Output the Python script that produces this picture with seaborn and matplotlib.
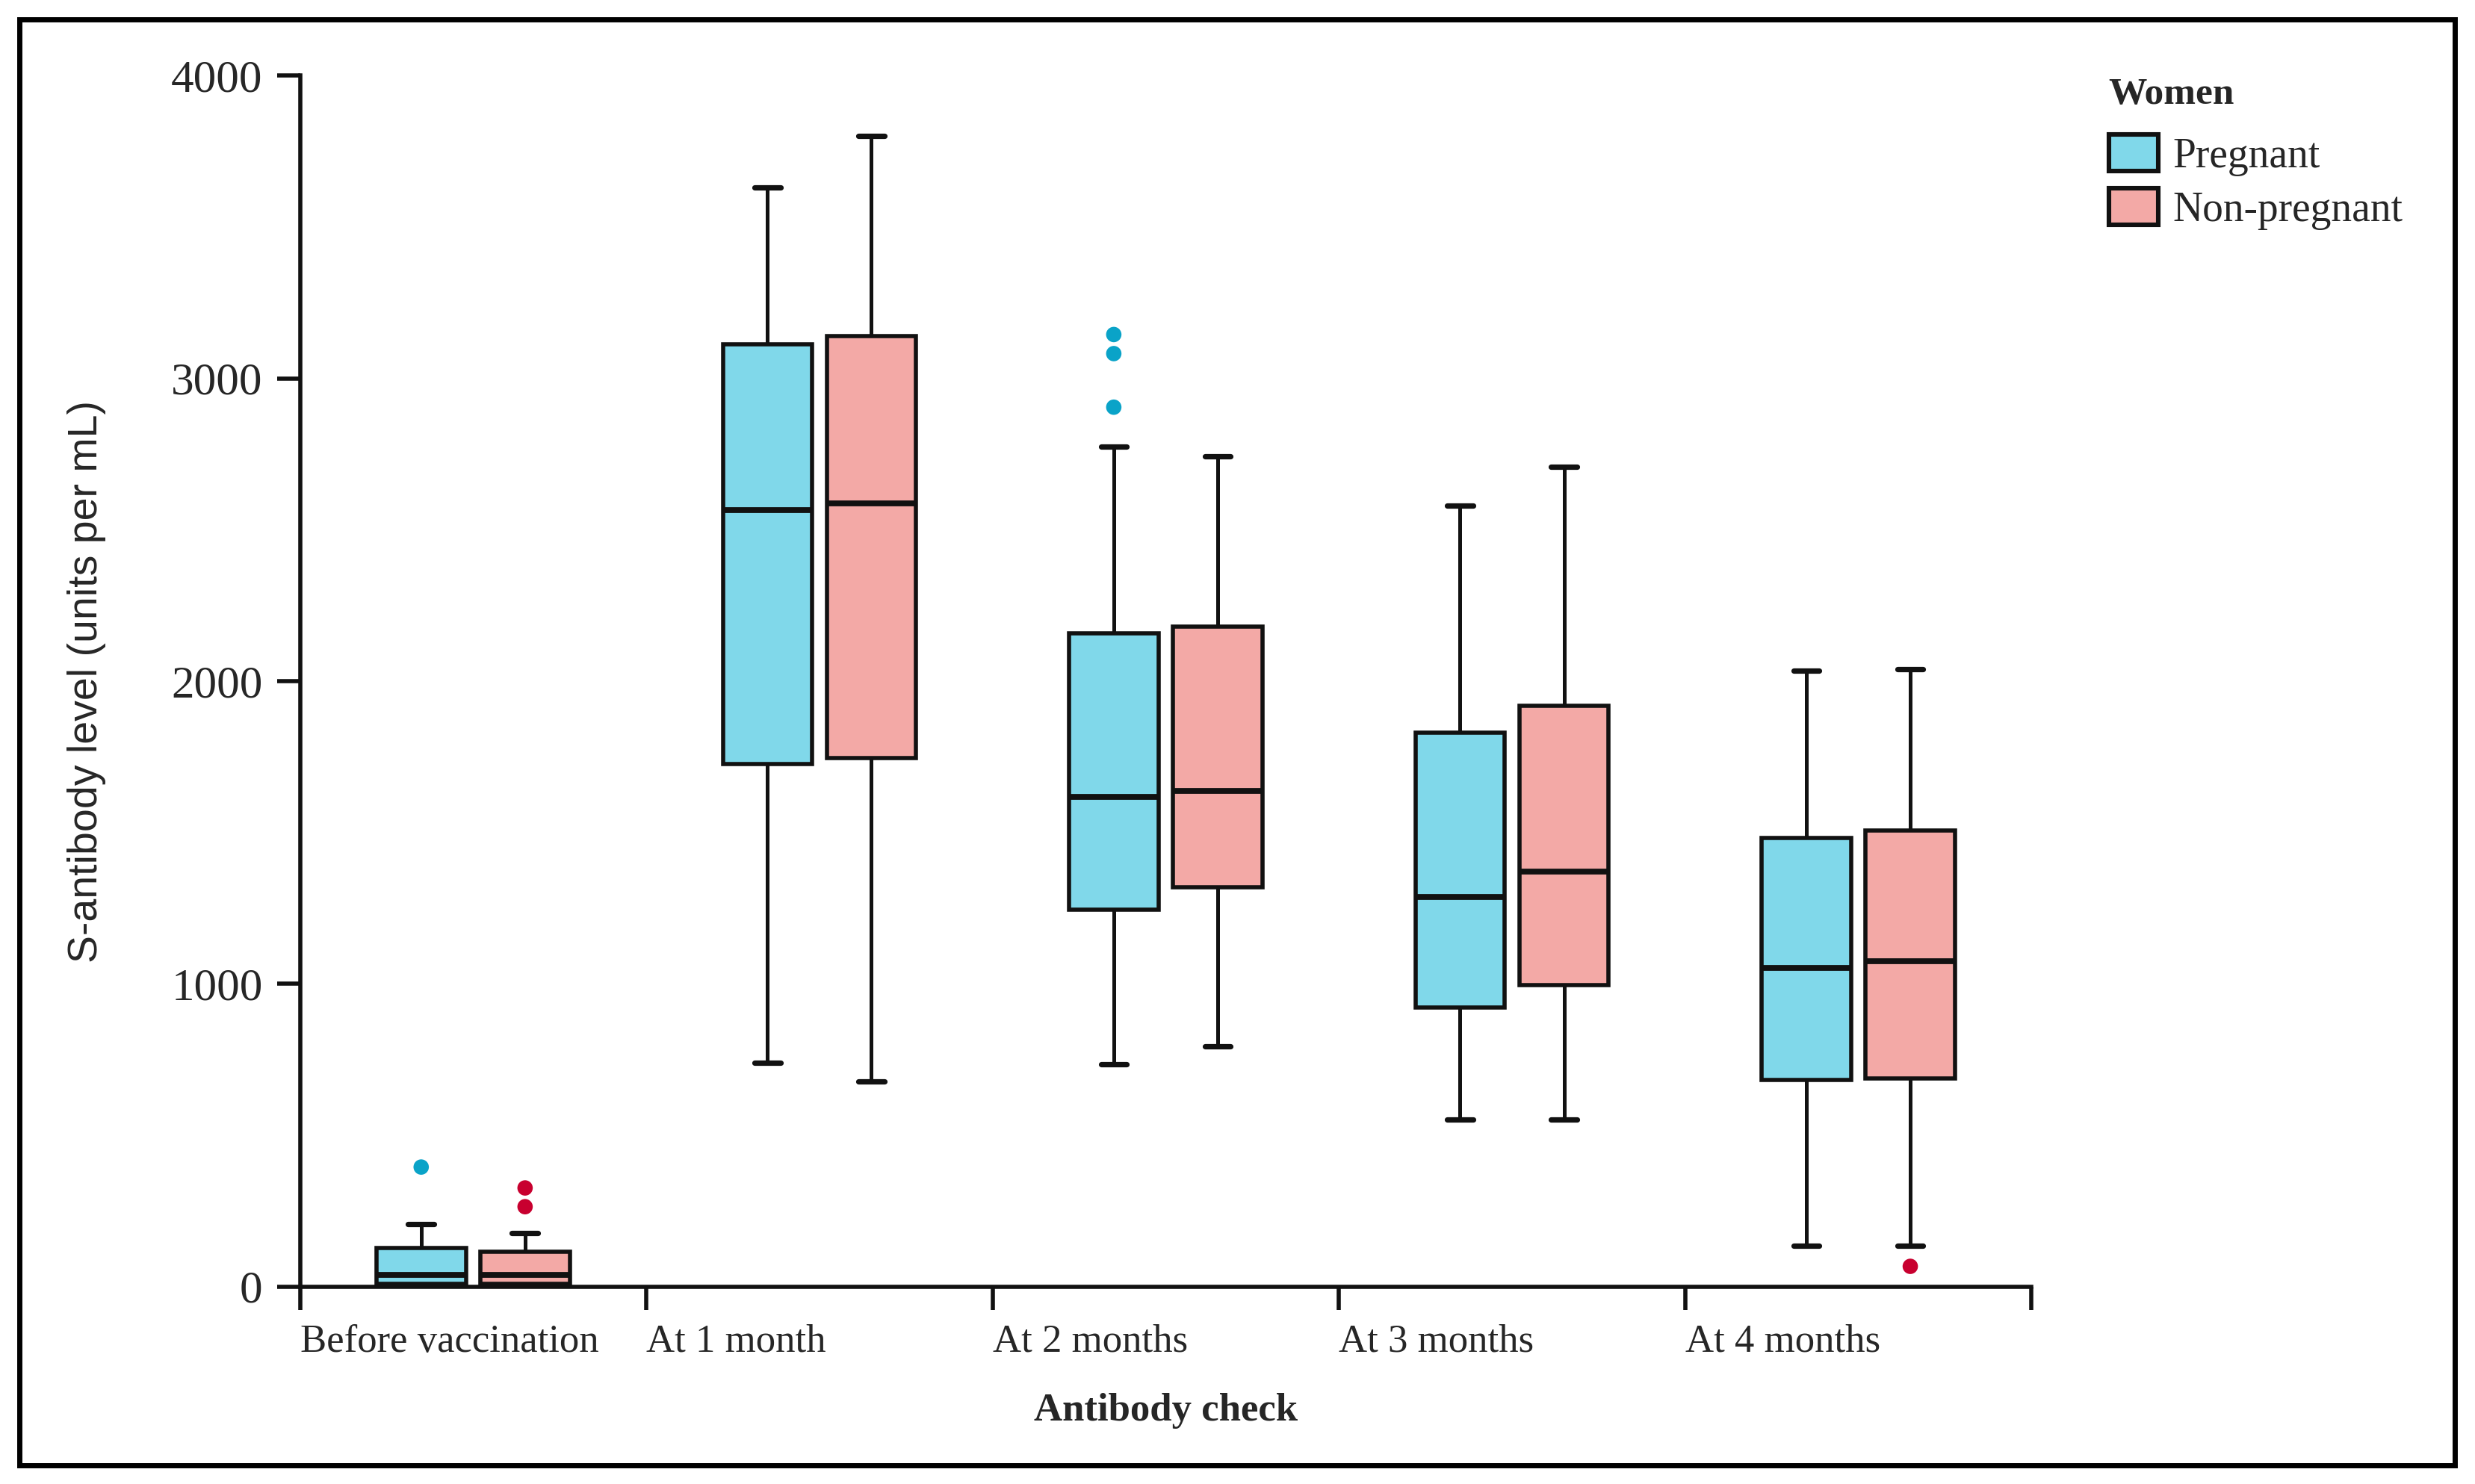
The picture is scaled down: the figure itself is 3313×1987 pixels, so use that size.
import numpy as np
import pandas as pd
import matplotlib
matplotlib.use("Agg")
import matplotlib.pyplot as plt
from matplotlib.patches import Patch, Rectangle
import seaborn as sns

checks = ["Before vaccination", "At 1 month", "At 2 months", "At 3 months", "At 4 months"]
groups = ["Pregnant", "Non-pregnant"]

# five-number summaries (whisker low, q1, median, q3, whisker high)
preg_low = [0, 740, 735, 553, 135]
preg_q1 = [10, 1726, 1246, 923, 683]
preg_med = [40, 2566, 1617, 1288, 1053]
preg_q3 = [128, 3113, 2159, 1830, 1481]
preg_high = [207, 3630, 2774, 2581, 2034]

non_low = [0, 678, 793, 553, 135]
non_q1 = [10, 1747, 1319, 996, 688]
non_med = [40, 2587, 1638, 1372, 1074]
non_q3 = [116, 3140, 2180, 1919, 1507]
non_high = [178, 3802, 2743, 2707, 2039]

# outliers
preg_out_check = ["Before vaccination", "At 2 months", "At 2 months", "At 2 months"]
preg_out_level = [395, 3145, 3082, 2905]
non_out_check = ["Before vaccination", "Before vaccination", "At 4 months"]
non_out_level = [326, 264, 67]

box_colors = {"Pregnant": "#80d8ea", "Non-pregnant": "#f3a9a6"}
out_colors = {"Pregnant": "#0aa3c8", "Non-pregnant": "#c8002f"}

summaries = {
    "Pregnant": [preg_low, preg_q1, preg_med, preg_q3, preg_high],
    "Non-pregnant": [non_low, non_q1, non_med, non_q3, non_high],
}
records = []
for g in groups:
    for arr in summaries[g]:
        for i, c in enumerate(checks):
            records.append((c, g, arr[i]))
df = pd.DataFrame(records, columns=["check", "women", "level"])

outs = pd.DataFrame({
    "check": preg_out_check + non_out_check,
    "women": ["Pregnant"] * len(preg_out_check) + ["Non-pregnant"] * len(non_out_check),
    "level": preg_out_level + non_out_level,
})
box_width = 0.6
hue_offset = {"Pregnant": -box_width / 4, "Non-pregnant": box_width / 4}
outs["xpos"] = [checks.index(c) + hue_offset[w] for c, w in zip(outs["check"], outs["women"])]

sns.set_style("ticks")
plt.rcParams["font.family"] = ["Liberation Serif", "DejaVu Serif"]

fig = plt.figure(figsize=(16.565, 9.935), dpi=200)
ax = fig.add_axes([0.1212, 0.133, 0.6996, 0.816])

sns.boxplot(data=df, x="check", y="level", hue="women", order=checks, hue_order=groups,
            palette=box_colors, saturation=1, width=box_width, gap=0.14, whis=np.inf,
            showfliers=False, linewidth=2.0, linecolor="#111111", legend=False, ax=ax,
            medianprops=dict(color="#111111", linewidth=2.8),
            whiskerprops=dict(linewidth=1.8),
            capprops=dict(linewidth=2.6),
            capwidths=0.075)

for w in groups:
    sub = outs[outs["women"] == w]
    ax.scatter(sub["xpos"], sub["level"], s=55, color=out_colors[w], edgecolor="none", zorder=5)

ax.set_xlim(-0.5, len(checks) - 0.5)
ax.set_ylim(0, 4000)
ax.set_yticks([0, 1000, 2000, 3000, 4000])
ax.set_yticklabels(["0", "1000", "2000", "3000", "4000"], fontsize=22)
ax.set_xticks(np.arange(len(checks) + 1) - 0.5)
ax.set_xticklabels(checks + [""], fontsize=19, ha="left")
ax.tick_params(axis="both", direction="out", length=11, width=2, color="#111111", pad=7)
for side in ["top", "right"]:
    ax.spines[side].set_visible(False)
for side in ["left", "bottom"]:
    ax.spines[side].set_linewidth(2)
    ax.spines[side].set_color("#111111")

ax.set_xlabel("Antibody check", fontsize=19, fontweight="bold")
ax.xaxis.set_label_coords(0.5, -0.088)
ax.set_ylabel("S-antibody level (units per mL)", fontsize=20,
              family=["Liberation Sans", "DejaVu Sans"])
ax.yaxis.set_label_coords(-0.112, 0.5)

# legend: title drawn as its own text so its gap to the entries can be set
fig.text(0.852, 0.936, "Women", fontsize=18.5, fontweight="bold", ha="left", va="center")
handles = [Patch(facecolor=box_colors[g], edgecolor="#111111", linewidth=2.2, label=g) for g in groups]
fig.legend(handles=handles, loc="center left", bbox_to_anchor=(0.852, 0.8774),
           frameon=False, fontsize=20, handlelength=1.2, handleheight=1.0, handletextpad=0.35,
           labelspacing=0.29, borderpad=0, borderaxespad=0)

fig.add_artist(Rectangle((0.0077, 0.0128), 0.984, 0.974, transform=fig.transFigure,
                         fill=False, linewidth=2.5, edgecolor="black"))

fig.savefig("out.png", dpi=200)
